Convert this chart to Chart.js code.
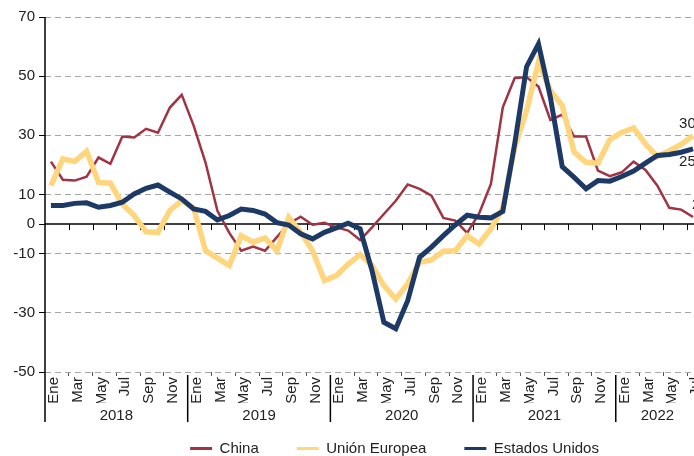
<!DOCTYPE html>
<html>
<head>
<meta charset="utf-8">
<script src="https://cdn.jsdelivr.net/npm/chart.js@4/dist/chart.umd.min.js"></script>
<style>
  html, body { margin: 0; padding: 0; background: #fff; overflow: hidden; }
  canvas { display: block; }
</style>
</head>
<body>
<canvas id="myChart" width="789" height="456"></canvas>
<script>
// months Jan 2018 - Jul 2022
var monthNames = ['Ene', 'Feb', 'Mar', 'Abr', 'May', 'Jun', 'Jul', 'Ago', 'Sep', 'Oct', 'Nov', 'Dic'];
var years = ['2018', '2019', '2020', '2021', '2022'];
var months = [];
for (var k = 0; k < 55; k++) months.push(monthNames[k % 12]);

var yTicks = [-50, -30, -10, 0, 10, 30, 50, 70];

var china = [21.1, 15, 14.7, 16, 22.5, 20.4, 29.6, 29.3, 32.2, 30.9, 39.4, 43.7,
  33.3, 20.8, 4.5, -3, -9, -7.6, -9, -4.4, 0.1, 2.5, -0.2, 0.4,
  -1.1, -2.2, -5.4, -1.1, 3.4, 7.9, 13.4, 11.9, 9.6, 2.1, 1.2, -3,
  3.5, 13.6, 39.5, 49.4, 49.6, 46.5, 35.2, 37, 29.6, 29.6, 18.1, 16.2,
  17.5, 21.1, 18.3, 13, 5.5, 4.9, 2.4];

var ue = [13, 22, 21.2, 24.6, 14.1, 13.8, 6.8, 2.9, -2.6, -2.8, 4.6, 7.9,
  5.4, -9, -11.5, -14, -3.9, -6.1, -4.7, -9, 2.3, -2.8, -9, -19.1,
  -17.4, -13.5, -10.3, -14, -20.8, -25.3, -20.2, -12.9, -12.1, -9.2, -9, -3.9,
  -6.7, -1.6, 5.5, 26, 38.4, 54.7, 45.1, 40.1, 24.3, 20.9, 20.6, 28.5,
  31, 32.5, 27.1, 22.8, 24.8, 26.9, 29.9];

var eeuu = [6.3, 6.3, 7, 7.2, 5.7, 6.3, 7.4, 10.2, 12.1, 13.2, 10.8, 8.5,
  5.1, 4.3, 1.4, 2.9, 5.1, 4.6, 3.4, 0.5, -0.3, -3.3, -5, -2.8,
  -1.3, 0.3, -1.6, -15.7, -33.2, -35.4, -25.9, -11.2, -7.8, -3.9, -0.3, 3,
  2.3, 2.1, 4.3, 27.1, 53.2, 60.9, 42.9, 19.4, 15.8, 11.9, 14.7, 14.5,
  16.1, 17.9, 20.6, 23.2, 23.5, 24.3, 25.4];

var FONT = 'Liberation Sans, Arial, sans-serif';
var TXT = '#222';

function edge(scale, i) {
  var step = scale.getPixelForValue(1) - scale.getPixelForValue(0);
  return scale.getPixelForValue(i) - step / 2;
}

var extras = {
  id: 'extras',
  beforeDatasetsDraw: function(chart) {
    var c = chart.ctx, x = chart.scales.x, y = chart.scales.y, a = chart.chartArea;
    var y0 = y.getPixelForValue(0);
    c.save();
    c.strokeStyle = '#000';
    c.lineWidth = 1.5;
    c.beginPath();
    c.moveTo(a.left, y0);
    c.lineTo(a.right, y0);
    c.stroke();
    c.lineWidth = 1;
    c.beginPath();
    for (var i = 2; i < months.length; i += 2) {
      var bx = Math.round(edge(x, i)) + 0.5;
      c.moveTo(bx, y0);
      c.lineTo(bx, y0 + 6);
    }
    c.stroke();
    c.restore();
  },
  afterDraw: function(chart) {
    var c = chart.ctx, x = chart.scales.x, a = chart.chartArea;
    c.save();
    c.strokeStyle = '#000';
    c.lineWidth = 1.5;
    // y axis line, down through the label rows
    c.beginPath();
    c.moveTo(a.left, a.top);
    c.lineTo(a.left, 422);
    c.stroke();
    // year separators and labels
    c.font = '15px ' + FONT;
    c.fillStyle = TXT;
    c.textAlign = 'center';
    c.textBaseline = 'middle';
    for (var j = 0; j < years.length; j++) {
      var x1 = edge(x, j * 12);
      var x2 = Math.min(edge(x, (j + 1) * 12), a.right);
      if (j > 0) {
        c.beginPath();
        c.moveTo(x1, a.bottom + 3);
        c.lineTo(x1, 422);
        c.stroke();
      }
      c.fillText(years[j], (x1 + x2) / 2, 416);
    }
    // value labels at the last point
    var last = months.length - 1;
    var offs = [[-1, 12], [-14, -12], [-14, 13]];
    chart.data.datasets.forEach(function(ds, d) {
      var pt = chart.getDatasetMeta(d).data[last];
      c.textAlign = 'left';
      c.fillText(String(Math.round(ds.data[last])), pt.x + offs[d][0], pt.y + offs[d][1] * (d === 0 ? -1 : 1));
    });
    c.restore();
  }
};

var ctx = document.getElementById('myChart').getContext('2d');

var myChart = new Chart(ctx, {
  type: 'line',
  data: {
    labels: months,
    datasets: [{
      label: 'China',
      data: china,
      borderColor: '#a03344',
      backgroundColor: '#a03344',
      borderWidth: 2.5,
      order: 3
    }, {
      label: 'Unión Europea',
      data: ue,
      borderColor: '#ffd57e',
      backgroundColor: '#ffd57e',
      borderWidth: 5.5,
      order: 2
    }, {
      label: 'Estados Unidos',
      data: eeuu,
      borderColor: '#1d3966',
      backgroundColor: '#1d3966',
      borderWidth: 5,
      order: 1
    }]
  },
  options: {
    responsive: false,
    animation: false,
    layout: { padding: { top: 17, left: 0, right: 0, bottom: -10 } },
    elements: {
      point: { radius: 0 },
      line: { tension: 0 }
    },
    scales: {
      x: {
        offset: true,
        border: { display: false },
        grid: {
          offset: true,
          drawOnChartArea: false,
          tickLength: 4,
          tickColor: function(ctx) {
            return (ctx.index % 2 === 0 && ctx.index % 12 !== 0) ? '#555' : 'rgba(0,0,0,0)';
          }
        },
        ticks: {
          autoSkip: false,
          maxRotation: 90,
          minRotation: 90,
          padding: 1,
          labelOffset: 3,
          color: TXT,
          font: { family: FONT, size: 15 },
          callback: function(v, i) { return i % 2 === 0 ? months[i] : ''; }
        },
        afterFit: function(s) { s.height = 31; }
      },
      y: {
        min: -50,
        max: 70,
        border: { display: false, dash: [6, 4] },
        grid: {
          color: function(ctx) { return ctx.tick && ctx.tick.value === 0 ? 'rgba(0,0,0,0)' : '#a6a6a6'; },
          tickColor: '#000',
          tickLength: 6,
          tickBorderDash: []
        },
        ticks: {
          padding: 4,
          color: TXT,
          font: { family: FONT, size: 15 }
        },
        afterBuildTicks: function(s) {
          s.ticks = yTicks.map(function(v) { return { value: v }; });
        },
        afterFit: function(s) { s.width = 45; }
      },
      y2: {
        position: 'right',
        border: { display: false },
        grid: { display: false },
        ticks: { display: false },
        afterFit: function(s) { s.width = 90; }
      }
    },
    plugins: {
      tooltip: { enabled: false },
      legend: {
        position: 'bottom',
        reverse: true,
        labels: {
          boxWidth: 22,
          boxHeight: 3,
          padding: 38,
          color: TXT,
          font: { family: FONT, size: 15 },
          generateLabels: function(chart) {
            var items = Chart.defaults.plugins.legend.labels.generateLabels(chart);
            items.forEach(function(it) { it.fillStyle = it.strokeStyle; it.lineWidth = 0; });
            return items;
          }
        }
      }
    }
  },
  plugins: [extras]
});
</script>
</body>
</html>
